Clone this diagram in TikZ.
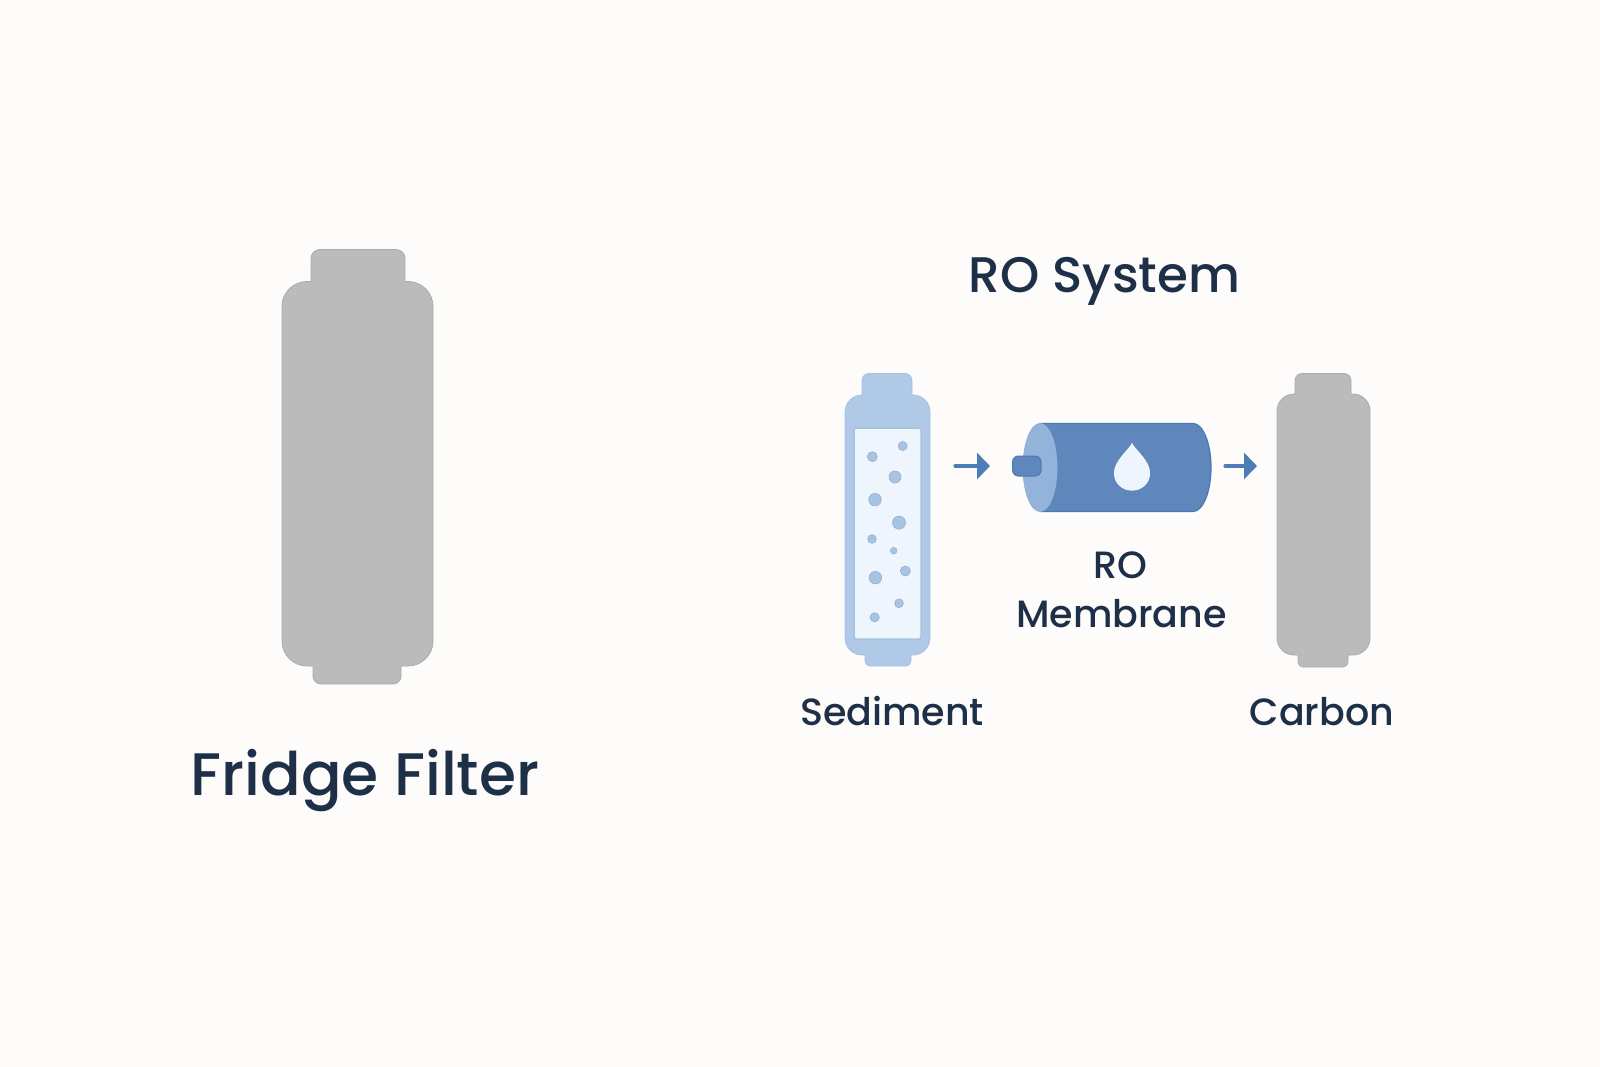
\documentclass[tikz,border=0pt]{standalone}
\usepackage{fontspec}
\setmainfont{Poppins}[UprightFont=* Medium]
\usetikzlibrary{arrows.meta}
\definecolor{bgc}{HTML}{FDFCFB}
\definecolor{grayf}{HTML}{BCBBBB}
\definecolor{grayl}{HTML}{ABABAB}
\definecolor{lblue}{HTML}{AFC9E6}
\definecolor{lblueb}{HTML}{A6C2E2}
\definecolor{inner}{HTML}{EFF5FD}
\definecolor{dot}{HTML}{A9C4E2}
\definecolor{dotb}{HTML}{8FB0D8}
\definecolor{mblue}{HTML}{5F87BB}
\definecolor{mbord}{HTML}{4A78B5}
\definecolor{mface}{HTML}{94B3DA}
\definecolor{arrowc}{HTML}{4C7DB8}
\definecolor{txt}{HTML}{1E3048}
\tikzset{
  grayshape/.style={fill=grayf,draw=grayl,line width=0.8pt},
  sedshape/.style={fill=lblue,draw=lblueb,line width=0.8pt},
  grain/.style={fill=dot,draw=dotb,line width=0.6pt},
  flow/.style={draw=arrowc,line width=3.2pt,line cap=round,-{Triangle[length=13pt,width=26pt,fill=arrowc]}},
  biglabel/.style={text=txt,anchor=base,inner sep=0pt,font=\fontsize{60}{60}\selectfont},
  midlabel/.style={text=txt,anchor=base,inner sep=0pt,font=\fontsize{50}{50}\selectfont},
  smalllabel/.style={text=txt,anchor=base,inner sep=0pt,font=\fontsize{38}{38}\selectfont},
}
\begin{document}
\begin{tikzpicture}[x=1pt,y=-1pt]
\useasboundingbox (0,0) rectangle (1600,1067);
\fill[bgc] (0,0) rectangle (1600,1067);
% Fridge filter
\draw[grayshape] (311,281.5) [rounded corners=9] -- (311,249.5) -- (405,249.5) [sharp corners] -- (405,281.5)
  [rounded corners=25] -- (433,281.5) -- (433,666) [sharp corners] -- (401,666)
  [rounded corners=8] -- (401,684) -- (313,684) [sharp corners] -- (313,666)
  [rounded corners=25] -- (282,666) -- (282,281.5) [sharp corners] -- cycle;
\node[biglabel] (fridge) at (365,795) {Fridge Filter};
% RO system title
\node[midlabel] (ro) at (1104.5,292) {RO System};
% Sediment
\draw[sedshape] (862,395) [rounded corners=7] -- (862,373.5) -- (912,373.5) [sharp corners] -- (912,395)
  [rounded corners=17] -- (930,395) -- (930,655) [sharp corners] -- (911,655)
  [rounded corners=5] -- (911,666) -- (865,666) [sharp corners] -- (865,655)
  [rounded corners=17] -- (845,655) -- (845,395) [sharp corners] -- cycle;
\draw[fill=inner,draw=lblueb,line width=1.5pt,rounded corners=1.5] (854,428) rectangle (921,639);
\foreach \x/\y/\r in {157/290/5,248/258/4.5,225/351/6,165/419/6.3,237/488/6.5,156/537/4.3,221/572/3.3,256/633/5,166/653/6.3,237/730/4.4,164/772/4.6}
  \draw[grain] ({820+\x/3},{360+\y/3}) circle (\r);
\node[smalllabel] (sediment) at (892,725) {Sediment};
% Arrow 1
\coordinate (a1s) at (955,466);
\coordinate (a1e) at (990,466);
\draw[flow] (a1s) -- (a1e);
% RO membrane
\draw[fill=mblue,draw=mbord,line width=1.2pt] (1040,423.5) -- (1193,423.5) arc[start angle=-90,end angle=90,x radius=18,y radius=44] -- (1040,511.5) -- cycle;
\draw[fill=mface,draw=mface,line width=0.8pt] (1040,467.5) ellipse (17 and 44);
\draw[fill=mblue,draw=mbord,line width=1pt,rounded corners=6] (1012.5,456) rectangle (1041,476);
\draw[fill=inner,draw=mbord,line width=0.5pt] (1132,442) .. controls (1135,449) and (1150.5,460) .. (1150.5,473) .. controls (1150.5,484) and (1142,491) .. (1132,491) .. controls (1122,491) and (1113.5,484) .. (1113.5,473) .. controls (1113.5,460) and (1129,449) .. (1132,442) -- cycle;
\node[smalllabel] (rolab) at (1120,578) {RO};
\node[smalllabel] (memlab) at (1121.5,627) {Membrane};
% Arrow 2
\coordinate (a2s) at (1225,466);
\coordinate (a2e) at (1257,466);
\draw[flow] (a2s) -- (a2e);
% Carbon
\draw[grayshape] (1295,394) [rounded corners=7] -- (1295,373.5) -- (1351,373.5) [sharp corners] -- (1351,394)
  [rounded corners=17] -- (1370,394) -- (1370,655) [sharp corners] -- (1348,655)
  [rounded corners=5] -- (1348,667) -- (1298,667) [sharp corners] -- (1298,655)
  [rounded corners=17] -- (1277,655) -- (1277,394) [sharp corners] -- cycle;
\node[smalllabel] (carbon) at (1322,725) {Carbon};
\end{tikzpicture}
\end{document}
